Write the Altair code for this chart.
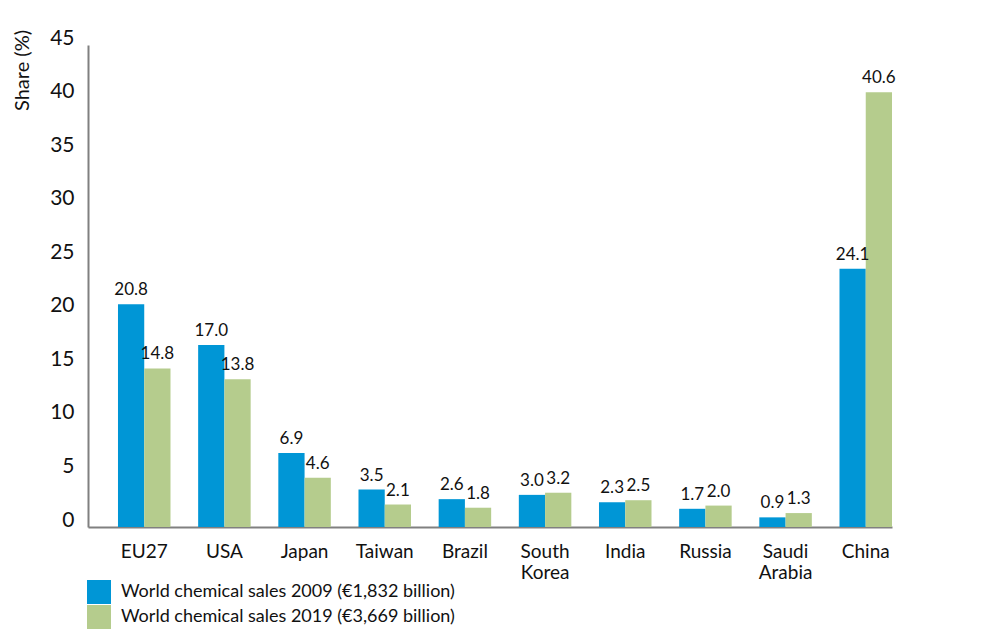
import altair as alt
import pandas as pd

countries = ["EU27", "USA", "Japan", "Taiwan", "Brazil", "South Korea", "India", "Russia", "Saudi Arabia", "China"]
sales_2009 = [20.8, 17.0, 6.9, 3.5, 2.6, 3.0, 2.3, 1.7, 0.9, 24.1]
sales_2019 = [14.8, 13.8, 4.6, 2.1, 1.8, 3.2, 2.5, 2.0, 1.3, 40.6]
series = ["World chemical sales 2009 (€1,832 billion)", "World chemical sales 2019 (€3,669 billion)"]
colors = ["#0096d6", "#b5cc8d"]

rows = []
for c, a, b in zip(countries, sales_2009, sales_2019):
    rows.append({"Country": c, "Series": series[0], "Share": a})
    rows.append({"Country": c, "Series": series[1], "Share": b})
df = pd.DataFrame(rows)

FONT = "Lato"

x = alt.X("Country:N", sort=countries, title=None,
          scale=alt.Scale(paddingInner=0.345, paddingOuter=0.187, align=1),
          axis=alt.Axis(labelAngle=0, ticks=False, labelPadding=15, labelFontSize=19,
                        labelColor="#111", labelFont=FONT, domainColor="#808080", domainWidth=2,
                        labelExpr="split(datum.label, ' ')", labelLineHeight=21, labelBaseline="top"))
xo = alt.XOffset("Series:N", sort=series, scale=alt.Scale(paddingInner=0, paddingOuter=0))
y = alt.Y("Share:Q", title="Share (%)",
          scale=alt.Scale(domain=[0, 45], nice=False),
          axis=alt.Axis(values=list(range(0, 50, 5)), ticks=False, grid=False, labelPadding=14,
                        labelFontSize=21, labelColor="#111", labelFont=FONT, labelOffset=-7,
                        domainColor="#808080", domainWidth=2,
                        titleFont=FONT, titleFontSize=20, titleFontWeight="normal", titleColor="#111",
                        titleAngle=270, titleAlign="center", titleBaseline="middle", titleX=-66, titleY=25))

color = alt.Color("Series:N", sort=series, scale=alt.Scale(domain=series, range=colors),
                  legend=alt.Legend(title=None, orient="none", legendX=-1, legendY=535,
                                    symbolType="square", symbolSize=576, symbolStrokeWidth=0,
                                    symbolOpacity=1, labelFontSize=18, labelFont=FONT,
                                    labelColor="#111", labelOffset=10, rowPadding=1, padding=0,
                                    labelLimit=500))

bars = alt.Chart(df).mark_bar().encode(x=x, xOffset=xo, y=y, color=color)
labels = alt.Chart(df).mark_text(baseline="bottom", dy=-5, fontSize=17, font=FONT, color="#111").encode(
    x=x, xOffset=xo, y=y, text=alt.Text("Share:Q", format=".1f"))

chart = (bars + labels).properties(
    width=804, height=482,
    autosize=alt.AutoSizeParams(type="none"),
    padding={"left": 80, "top": 37, "right": 70, "bottom": 102},
).configure(font=FONT).configure_view(stroke="transparent", strokeWidth=0)

chart.save("out.html", embed_options={"renderer": "svg", "actions": False})
